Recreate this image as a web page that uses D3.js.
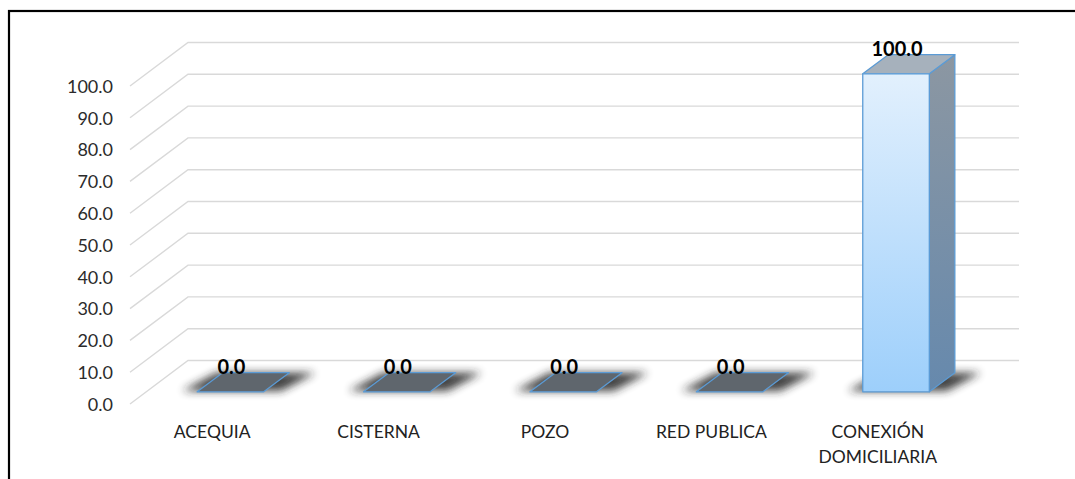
<!DOCTYPE html>
<html><head><meta charset="utf-8">
<script src="https://cdn.jsdelivr.net/npm/d3@7"></script>
<style>
html,body{margin:0;padding:0;background:#fff;}
svg{display:block;font-family:Lato,"Open Sans",sans-serif;}
</style></head>
<body><svg id="c" width="1075" height="479"></svg>
<script>
const categories = ["ACEQUIA","CISTERNA","POZO","RED PUBLICA","CONEXIÓN\nDOMICILIARIA"];
const values = [0.0, 0.0, 0.0, 0.0, 100.0];
const yTicks = [0,10,20,30,40,50,60,70,80,90,100];

const svg = d3.select("#c");
const W = 1075, H = 479;
const DX = 58, DY = 43.5;          // depth offset of the 3D floor
const D0 = 0.28, D1 = 0.72;        // bar depth range
const backRight = 1019;

const x = d3.scaleBand().domain(categories).range([131, 963]).paddingInner(0.6).paddingOuter(0.3);
const y = d3.scaleLinear().domain([0,100]).range([404, 86]);
const fmt = d3.format(".1f");

// frame
svg.append("rect").attr("x",9).attr("y",11).attr("width",W+20).attr("height",H+20)
  .attr("fill","none").attr("stroke","#000").attr("stroke-width",2.2);

const defs = svg.append("defs");
const gFront = defs.append("linearGradient").attr("id","gFront").attr("x1",0).attr("y1",0).attr("x2",0).attr("y2",1);
gFront.append("stop").attr("offset","0%").attr("stop-color","#e2f0fd");
gFront.append("stop").attr("offset","100%").attr("stop-color","#9dcffb");
const gSide = defs.append("linearGradient").attr("id","gSide").attr("x1",0).attr("y1",0).attr("x2",0).attr("y2",1);
gSide.append("stop").attr("offset","0%").attr("stop-color","#8c97a2");
gSide.append("stop").attr("offset","100%").attr("stop-color","#6689ad");
const blur = defs.append("filter").attr("id","blur").attr("x","-50%").attr("y","-50%").attr("width","200%").attr("height","200%");
blur.append("feGaussianBlur").attr("stdDeviation",4.5);

// gridlines
const grid = svg.append("g");
yTicks.forEach(t => {
  const yf = y(t);
  grid.append("polyline")
    .attr("points", `130,${yf} ${130+DX},${yf-DY} ${backRight},${yf-DY}`)
    .attr("fill","none").attr("stroke","#d9d9d9").attr("stroke-width",1.4);
});

// y tick labels
svg.append("g").selectAll("text").data(yTicks).join("text")
  .attr("x",113).attr("y",d=>y(d)).attr("dy","0.38em")
  .attr("text-anchor","end").attr("font-size",18).attr("fill","#2b2b2b")
  .text(d=>fmt(d));

// projection helper
const P = (xf, v, d) => [xf + d*DX, y(v) - d*DY];
const pts = arr => arr.map(p=>p.join(",")).join(" ");

const bars = svg.append("g");
categories.forEach((c,i) => {
  const v = values[i];
  const xl = x(c), xr = x(c) + x.bandwidth();
  // shadow
  const sh = [P(xl-16,0,D0+0.02), P(xr+16,0,D0+0.02), P(xr+26,0,D1), P(xl-6,0,D1)];
  bars.append("polygon").attr("points",pts(sh)).attr("fill","#222").attr("opacity",0.85).attr("filter","url(#blur)");
  if (v > 0) {
    bars.append("polygon").attr("points",pts([P(xr,0,D0),P(xr,0,D1),P(xr,v,D1),P(xr,v,D0)]))
      .attr("fill","url(#gSide)").attr("stroke","#5b9bd5").attr("stroke-width",1.3).attr("stroke-linejoin","round");
    bars.append("polygon").attr("points",pts([P(xl,v,D0),P(xr,v,D0),P(xr,v,D1),P(xl,v,D1)]))
      .attr("fill","#a6b1bc").attr("stroke","#5b9bd5").attr("stroke-width",1.3).attr("stroke-linejoin","round");
    bars.append("polygon").attr("points",pts([P(xl,0,D0),P(xr,0,D0),P(xr,v,D0),P(xl,v,D0)]))
      .attr("fill","url(#gFront)").attr("stroke","#5b9bd5").attr("stroke-width",1.3).attr("stroke-linejoin","round");
  } else {
    bars.append("polygon").attr("points",pts([P(xl,0,D0),P(xr,0,D0),P(xr,0,D1),P(xl,0,D1)]))
      .attr("fill","#5f666d").attr("stroke","#5b9bd5").attr("stroke-width",1.3).attr("stroke-linejoin","round");
  }
  const lp = P(xl + x.bandwidth()/2, v, D0);
  const bp = P(0, v, D1);
  bars.append("text").attr("x",lp[0]+1).attr("y",bp[1]+1.5)
    .attr("text-anchor","middle").attr("font-size",20).attr("font-weight","bold").attr("fill","#000")
    .text(fmt(v));
});

// category labels
const cat = svg.append("g");
categories.forEach(c => {
  const lines = c.split("\n");
  const t = cat.append("text").attr("text-anchor","middle").attr("font-size",17.5).attr("fill","#222");
  lines.forEach((ln,k) => {
    t.append("tspan").attr("x", x(c)+x.bandwidth()/2 - 2).attr("y", 438 + k*25).text(ln);
  });
});
</script>
</body></html>
